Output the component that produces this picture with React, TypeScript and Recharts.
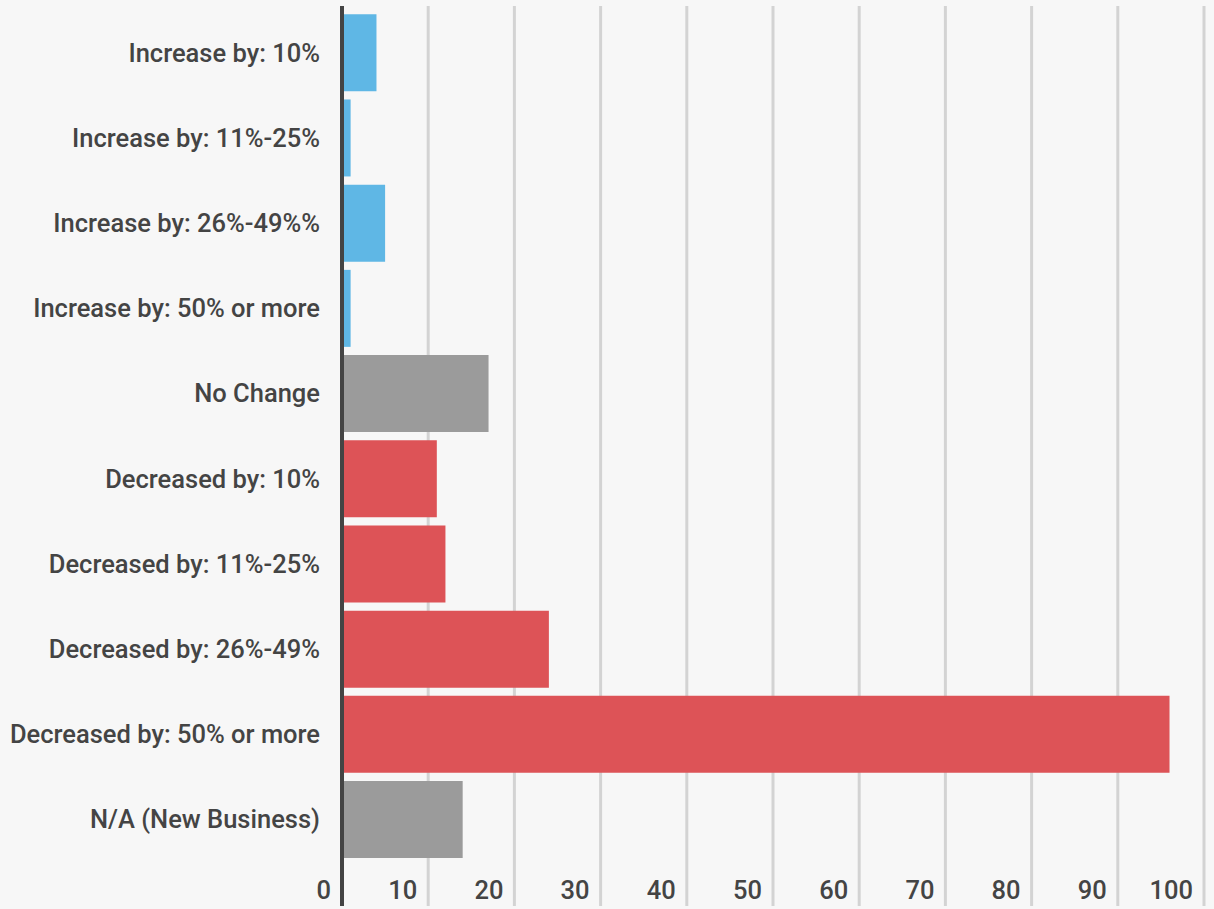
import React from 'react';
import { BarChart, Bar, XAxis, YAxis, CartesianGrid, Cell } from 'recharts';

// Survey answers, top to bottom
const categories = [
  'Increase by: 10%',
  'Increase by: 11%-25%',
  'Increase by: 26%-49%%',
  'Increase by: 50% or more',
  'No Change',
  'Decreased by: 10%',
  'Decreased by: 11%-25%',
  'Decreased by: 26%-49%',
  'Decreased by: 50% or more',
  'N/A (New Business)',
];
const responses = [4, 1, 5, 1, 17, 11, 12, 24, 96, 14];
const groups = ['up', 'up', 'up', 'up', 'flat', 'down', 'down', 'down', 'down', 'flat'];
const xTicks = [0, 10, 20, 30, 40, 50, 60, 70, 80, 90, 100];

const groupColors: Record<string, string> = {
  up: '#5fb7e5',
  flat: '#9b9b9b',
  down: '#dd5357',
};

const FONT = 'Roboto, "Noto Sans", sans-serif';
const TEXT = '#444444';
const FONT_SIZE = 25.5;

const chartData = categories.map((name, i) => ({
  name,
  value: responses[i],
  group: groups[i],
}));

// x labels sit inside the bottom padding, right-aligned against their gridline
const XTick = (props: any) => {
  const { x, y, payload } = props;
  return (
    <text
      x={x - 11}
      y={y - 7}
      textAnchor="end"
      fill={TEXT}
      fontSize={FONT_SIZE}
      fontWeight={500}
      fontFamily={FONT}
    >
      {payload.value}
    </text>
  );
};

const App: React.FC = () => {
  return (
    <div style={{ position: 'absolute', left: 0, top: 0, width: 1214, height: 909, background: '#f7f7f7' }}>
      <BarChart
        width={1214}
        height={909}
        data={chartData}
        layout="vertical"
        margin={{ top: 6, right: 10, bottom: 0, left: 0 }}
        barCategoryGap="5%"
      >
        <CartesianGrid horizontal={false} stroke="#d3d3d3" strokeWidth={3} />
        <XAxis
          type="number"
          domain={[0, 100]}
          ticks={xTicks}
          height={3}
          axisLine={false}
          tickLine={false}
          tickSize={0}
          tickMargin={0}
          tick={XTick}
          interval={0}
        />
        <YAxis
          type="category"
          dataKey="name"
          width={342}
          padding={{ top: 4, bottom: 44 }}
          axisLine={{ stroke: '#444444', strokeWidth: 4 }}
          tickLine={false}
          tickSize={0}
          tickMargin={22}
          interval={0}
          tick={{ fill: TEXT, fontSize: FONT_SIZE, fontWeight: 500, fontFamily: FONT }}
        />
        <Bar dataKey="value" isAnimationActive={false}>
          {chartData.map((d) => (
            <Cell key={d.name} fill={groupColors[d.group]} />
          ))}
        </Bar>
      </BarChart>
    </div>
  );
};

export default App;
